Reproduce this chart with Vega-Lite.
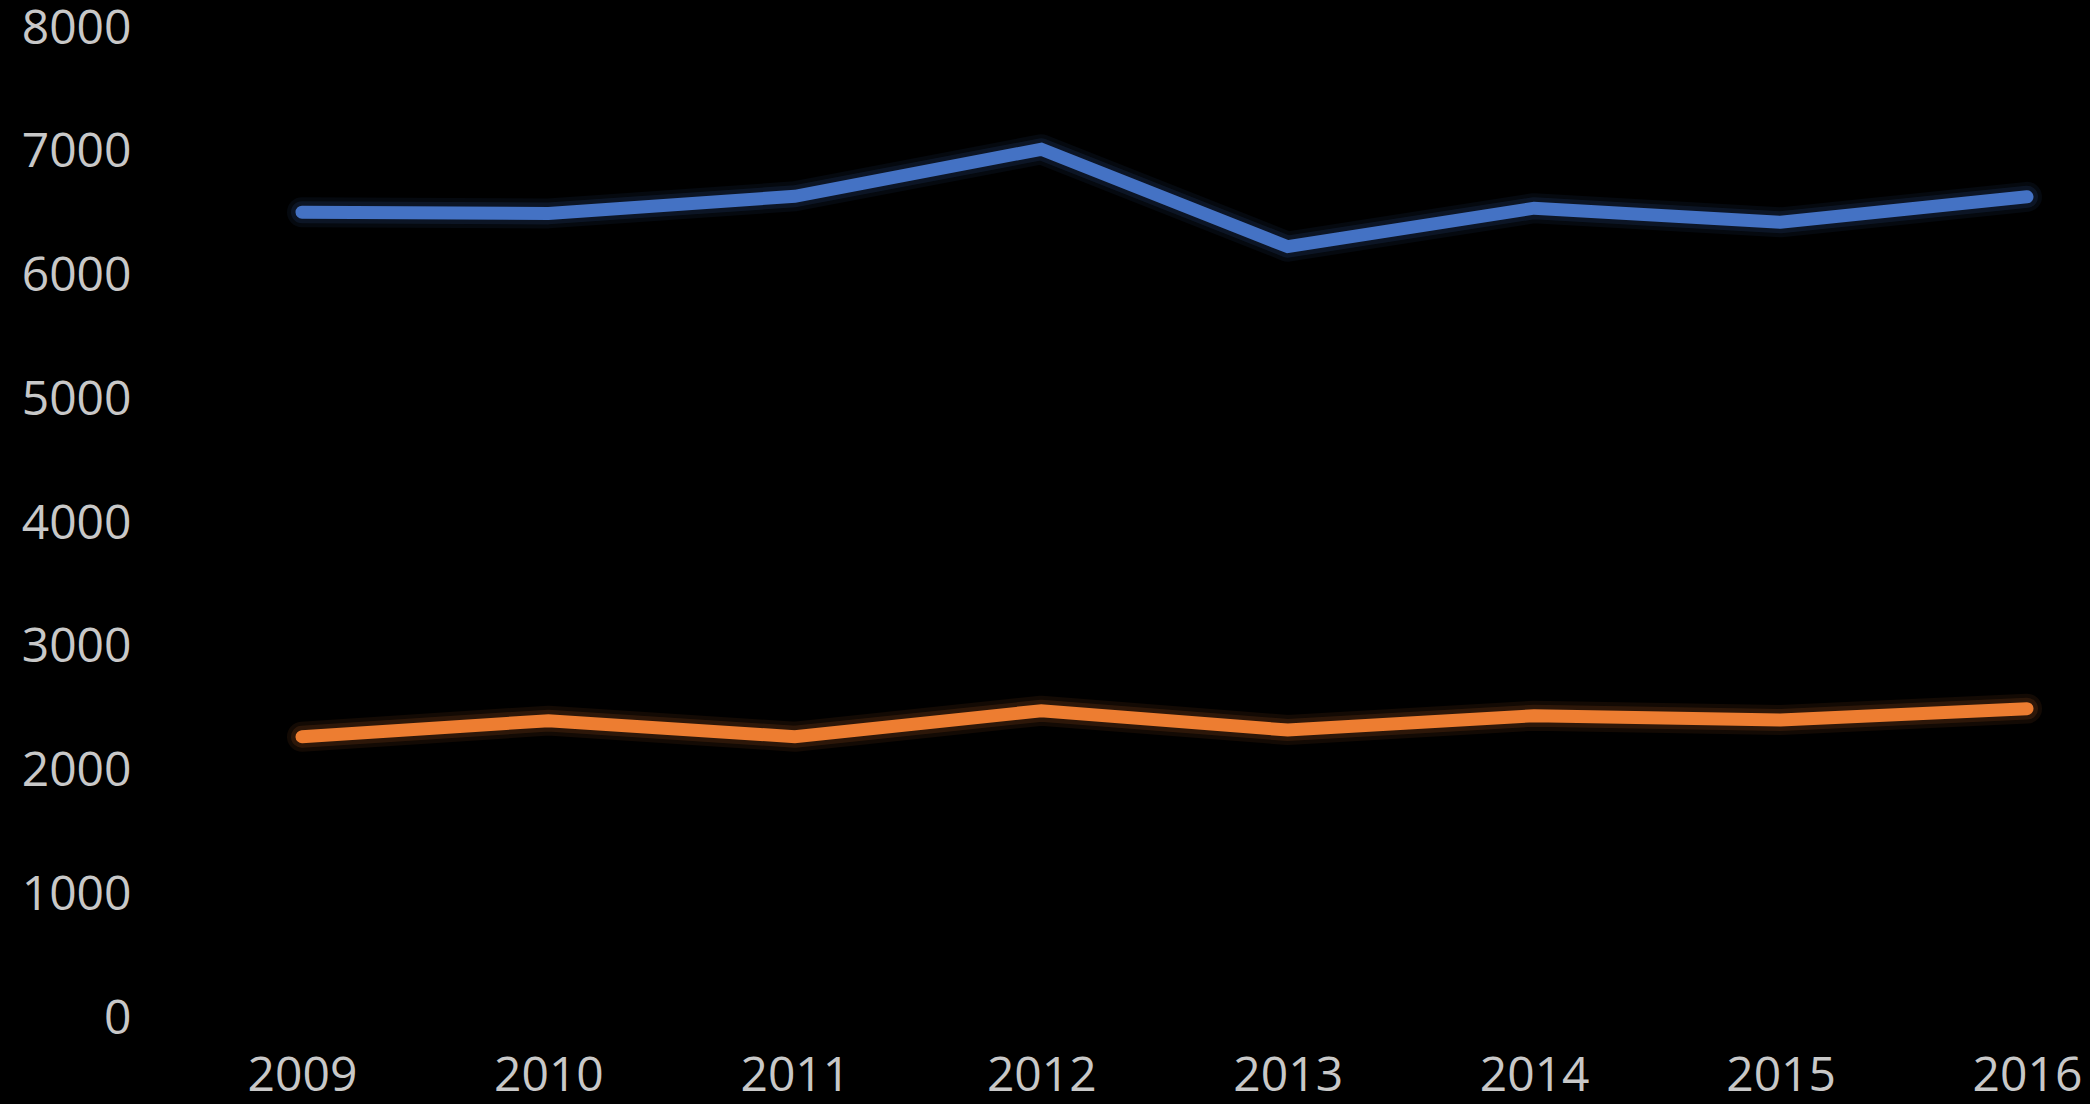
{
  "$schema": "https://vega.github.io/schema/vega-lite/v6.json",
  "width": 1725,
  "height": 990,
  "autosize": {"type": "none"},
  "padding": {"left": 302, "top": 29, "right": 63, "bottom": 85},
  "background": "#000000",
  "config": {
    "view": {"stroke": null},
    "axis": {"labelFont": "Open Sans", "labelFontSize": 48, "labelColor": "#c8c8c8", "grid": false, "domain": false, "ticks": false, "title": null}
  },
  "data": {
    "values": [
      {"year": "2009", "series": "Series1", "value": 6520},
      {"year": "2010", "series": "Series1", "value": 6510},
      {"year": "2011", "series": "Series1", "value": 6648},
      {"year": "2012", "series": "Series1", "value": 7028},
      {"year": "2013", "series": "Series1", "value": 6241},
      {"year": "2014", "series": "Series1", "value": 6552},
      {"year": "2015", "series": "Series1", "value": 6438},
      {"year": "2016", "series": "Series1", "value": 6644},
      {"year": "2009", "series": "Series2", "value": 2281},
      {"year": "2010", "series": "Series2", "value": 2411},
      {"year": "2011", "series": "Series2", "value": 2281},
      {"year": "2012", "series": "Series2", "value": 2491},
      {"year": "2013", "series": "Series2", "value": 2335},
      {"year": "2014", "series": "Series2", "value": 2451},
      {"year": "2015", "series": "Series2", "value": 2416},
      {"year": "2016", "series": "Series2", "value": 2508}
    ]
  },
  "encoding": {
    "x": {"field": "year", "type": "ordinal", "scale": {"type": "point", "padding": 0}, "axis": {"labelAngle": 0, "labelPadding": 33}},
    "y": {"field": "value", "type": "quantitative", "scale": {"domain": [0, 8000], "nice": false}, "axis": {"values": [0, 1000, 2000, 3000, 4000, 5000, 6000, 7000, 8000], "format": "d", "labelPadding": 171}},
    "color": {"field": "series", "type": "nominal", "scale": {"domain": ["Series1", "Series2"], "range": ["#4472C4", "#ED7D31"]}, "legend": null}
  },
  "layer": [
    {"mark": {"type": "line", "strokeWidth": 30, "opacity": 0.08, "strokeCap": "round", "strokeJoin": "round"}},
    {"mark": {"type": "line", "strokeWidth": 22, "opacity": 0.12, "strokeCap": "round", "strokeJoin": "round"}},
    {"mark": {"type": "line", "strokeWidth": 13, "strokeCap": "round", "strokeJoin": "miter"}}
  ]
}
